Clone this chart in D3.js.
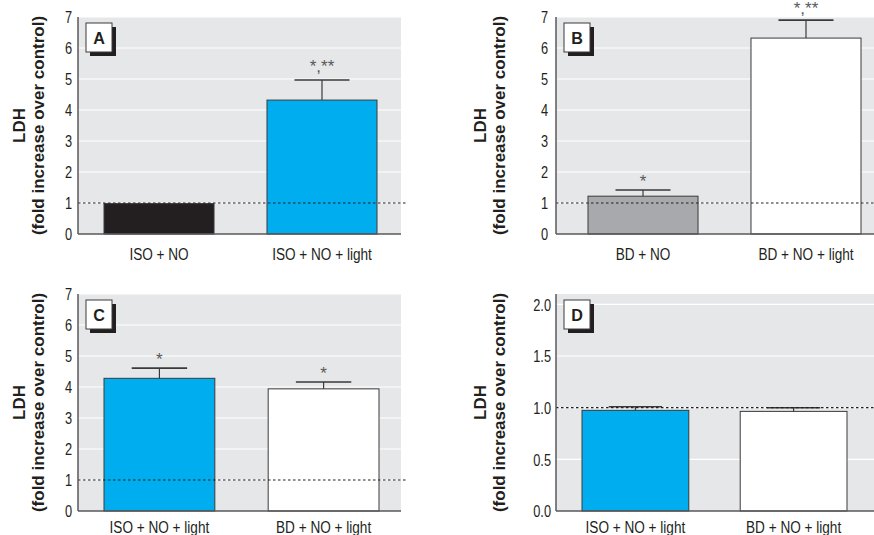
<!DOCTYPE html>
<html>
<head>
<meta charset="utf-8">
<script src="https://cdn.jsdelivr.net/npm/d3@7"></script>
<style>
  body { margin: 0; background: #fff; }
  svg { display: block; font-family: "Liberation Sans", Arial, sans-serif; }
</style>
</head>
<body>
<div id="chart"></div>
<script>
const W = 874;
const H = 535;

// Données
const panelLetters = ["A", "B", "C", "D"];

const catsA = ["ISO + NO", "ISO + NO + light"];
const valuesA = [0.98, 4.32];
const errorsA = [0, 0.65];
const marksA = ["", "*,**"];

const catsB = ["BD + NO", "BD + NO + light"];
const valuesB = [1.22, 6.32];
const errorsB = [0.2, 0.58];
const marksB = ["*", "*,**"];

const catsC = ["ISO + NO + light", "BD + NO + light"];
const valuesC = [4.28, 3.94];
const errorsC = [0.33, 0.22];
const marksC = ["*", "*"];

const catsD = ["ISO + NO + light", "BD + NO + light"];
const valuesD = [0.974, 0.964];
const errorsD = [0.035, 0.035];
const marksD = ["", ""];

const ticks7 = [0, 1, 2, 3, 4, 5, 6, 7];
const ticksD = [0, 0.5, 1.0, 1.5, 2.0];

const colorsA = ["#231f20", "#00aeef"];
const colorsB = ["#a7a9ac", "#ffffff"];
const colorsC = ["#00aeef", "#ffffff"];
const colorsD = ["#00aeef", "#ffffff"];

// compression horizontale pour imiter la police condensée
const narrow = 0.8;

// Mise en page de chaque panneau
const panels = [
  { letter: panelLetters[0], cats: catsA, values: valuesA, errors: errorsA, marks: marksA, colors: colorsA,
    ticks: ticks7, fmt: d3.format("d"), domain: [0, 7],
    x: 78, y: 17, w: 323, h: 217, inset: 26, bw: 273, labX: -59, tickPad: 6, xlabDy: 26 },
  { letter: panelLetters[1], cats: catsB, values: valuesB, errors: errorsB, marks: marksB, colors: colorsB,
    ticks: ticks7, fmt: d3.format("d"), domain: [0, 7],
    x: 556, y: 17, w: 340, h: 217, inset: 32, bw: 273, labX: -76, tickPad: 8, xlabDy: 26 },
  { letter: panelLetters[2], cats: catsC, values: valuesC, errors: errorsC, marks: marksC, colors: colorsC,
    ticks: ticks7, fmt: d3.format("d"), domain: [0, 7],
    x: 78, y: 294, w: 323, h: 217, inset: 26, bw: 275, labX: -59, tickPad: 6, xlabDy: 22 },
  { letter: panelLetters[3], cats: catsD, values: valuesD, errors: errorsD, marks: marksD, colors: colorsD,
    ticks: ticksD, fmt: d3.format(".1f"), domain: [0, 2.1],
    x: 556, y: 294, w: 340, h: 217, inset: 26, bw: 265, labX: -76, tickPad: 5, xlabDy: 22 }
];

const svg = d3.select("#chart").append("svg")
  .attr("width", W)
  .attr("height", H);

function drawPanel(p) {
  const g = svg.append("g");

  const y = d3.scaleLinear().domain(p.domain).range([p.y + p.h, p.y]);
  const x = d3.scaleBand().domain(p.cats)
    .range([p.x + p.inset, p.x + p.inset + p.bw])
    .paddingInner(0.325)
    .paddingOuter(0);

  // fond gris
  g.append("rect")
    .attr("x", p.x).attr("y", p.y)
    .attr("width", p.w).attr("height", p.h)
    .attr("fill", "#e6e7e8");

  // lignes de grille blanches
  g.selectAll(".grid")
    .data(p.ticks.filter(t => t > 0))
    .join("line")
    .attr("x1", p.x).attr("x2", p.x + p.w)
    .attr("y1", d => y(d)).attr("y2", d => y(d))
    .attr("stroke", "#fff")
    .attr("stroke-width", 1.2);

  // axe Y
  const yAxis = d3.axisLeft(y).tickValues(p.ticks).tickFormat(p.fmt).tickSize(0);
  const ya = g.append("g").attr("transform", `translate(${p.x},0)`).call(yAxis);
  ya.select(".domain").remove();
  ya.selectAll("text")
    .attr("x", null)
    .attr("dy", "0.36em")
    .attr("transform", `translate(${-p.tickPad},0) scale(${narrow},1)`)
    .attr("font-size", 16)
    .attr("fill", "#231f20")
    .attr("font-family", "inherit");

  // barres
  g.selectAll(".bar")
    .data(p.cats)
    .join("rect")
    .attr("x", d => x(d))
    .attr("y", (d, i) => y(p.values[i]))
    .attr("width", x.bandwidth())
    .attr("height", (d, i) => y(0) - y(p.values[i]))
    .attr("fill", (d, i) => p.colors[i])
    .attr("stroke", "#3a3a3a")
    .attr("stroke-width", 1);

  // barres d'erreur
  p.cats.forEach((c, i) => {
    if (!p.errors[i]) return;
    const cx = x(c) + x.bandwidth() / 2;
    const top = y(p.values[i] + p.errors[i]);
    g.append("line")
      .attr("x1", cx).attr("x2", cx)
      .attr("y1", y(p.values[i])).attr("y2", top)
      .attr("stroke", "#3a3a3a").attr("stroke-width", 1.2);
    g.append("line")
      .attr("x1", cx - x.bandwidth() / 4).attr("x2", cx + x.bandwidth() / 4)
      .attr("y1", top).attr("y2", top)
      .attr("stroke", "#3a3a3a").attr("stroke-width", 1.6);
    if (p.marks[i]) {
      const off = p.marks[i].length > 1 ? 8 : 3;
      // garder le texte dans l'image
      const ty = Math.max(top - off, 14);
      g.append("text")
        .attr("x", cx).attr("y", ty)
        .attr("text-anchor", "middle")
        .attr("font-size", 17)
        .attr("fill", "#58595b")
        .text(p.marks[i]);
    }
  });

  // ligne pointillée au niveau du contrôle (1)
  g.append("line")
    .attr("x1", p.x).attr("x2", p.x + p.w + 6)
    .attr("y1", y(1)).attr("y2", y(1))
    .attr("stroke", "#231f20")
    .attr("stroke-width", 1.2)
    .attr("stroke-dasharray", "2.5,2.5");

  // axes
  g.append("line")
    .attr("x1", p.x).attr("x2", p.x)
    .attr("y1", p.y).attr("y2", p.y + p.h)
    .attr("stroke", "#58595b").attr("stroke-width", 1.5);
  g.append("line")
    .attr("x1", p.x).attr("x2", p.x + p.w)
    .attr("y1", p.y + p.h).attr("y2", p.y + p.h)
    .attr("stroke", "#58595b").attr("stroke-width", 1.5);

  // étiquettes X
  g.selectAll(".xlab")
    .data(p.cats)
    .join("text")
    .attr("transform", d => `translate(${x(d) + x.bandwidth() / 2},${p.y + p.h + p.xlabDy}) scale(${narrow},1)`)
    .attr("text-anchor", "middle")
    .attr("font-size", 17)
    .attr("fill", "#231f20")
    .text(d => d);

  // titre axe Y
  const cy = p.y + p.h / 2;
  const lab = g.append("text")
    .attr("transform", `translate(${p.x + p.labX},${cy}) rotate(-90)`)
    .attr("text-anchor", "middle")
    .attr("font-weight", "bold")
    .attr("font-size", 17)
    .attr("fill", "#231f20");
  lab.append("tspan").attr("x", 0).attr("dy", "0.35em").text("LDH");
  lab.append("tspan").attr("x", 0).attr("dy", "1.12em").text("(fold increase over control)");

  // boîte de la lettre
  const bx = p.x + 8, by = p.y + 6;
  g.append("rect").attr("x", bx + 4).attr("y", by + 4).attr("width", 26).attr("height", 29).attr("fill", "#231f20");
  g.append("rect").attr("x", bx).attr("y", by).attr("width", 26).attr("height", 29)
    .attr("fill", "#fff").attr("stroke", "#3a3a3a").attr("stroke-width", 1);
  g.append("text")
    .attr("transform", `translate(${bx + 13},${by + 21}) scale(0.95,1)`)
    .attr("text-anchor", "middle")
    .attr("font-weight", "bold")
    .attr("font-size", 17)
    .attr("fill", "#231f20")
    .text(p.letter);
}

panels.forEach(drawPanel);
</script>
</body>
</html>
